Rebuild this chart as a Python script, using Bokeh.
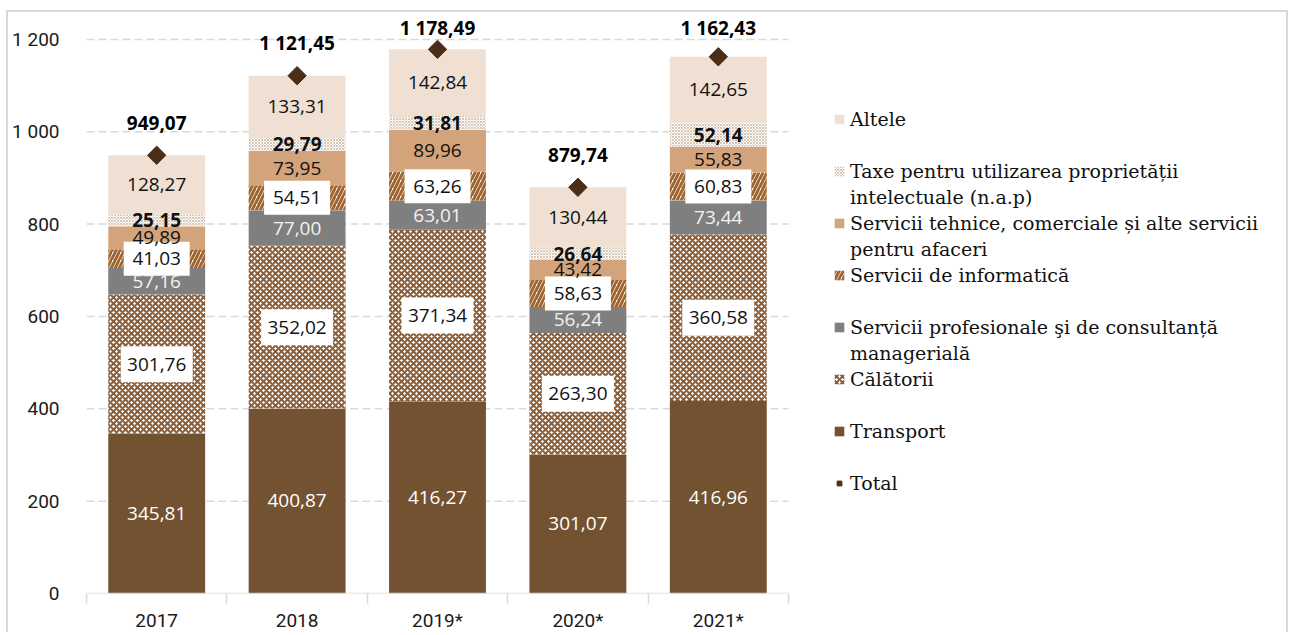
import numpy as np
from bokeh.plotting import figure
from bokeh.models import (ColumnDataSource, LabelSet, Legend, LegendItem, Range1d,
                          FixedTicker)
from bokeh.core.properties import value
from bokeh.embed import file_html
from bokeh.resources import INLINE

# ---------------- data ----------------
years = ["2017", "2018", "2019*", "2020*", "2021*"]
transport = [345.81, 400.87, 416.27, 301.07, 416.96]
calatorii = [301.76, 352.02, 371.34, 263.30, 360.58]
profesionale = [57.16, 77.00, 63.01, 56.24, 73.44]
informatica = [41.03, 54.51, 63.26, 58.63, 60.83]
tehnice = [49.89, 73.95, 89.96, 43.42, 55.83]
taxe = [25.15, 29.79, 31.81, 26.64, 52.14]
altele = [128.27, 133.31, 142.84, 130.44, 142.65]
total = [949.07, 1121.45, 1178.49, 879.74, 1162.43]

y_ticks = [0, 200, 400, 600, 800, 1000, 1200]
y_tick_labels = ["0", "200", "400", "600", "800", "1 000", "1 200"]

name_transport = "Transport"
name_calatorii = "Călătorii"
name_prof = ["Servicii profesionale şi de consultanță", "managerială"]
name_info = "Servicii de informatică"
name_teh = ["Servicii tehnice, comerciale și alte servicii", "pentru afaceri"]
name_taxe = ["Taxe pentru utilizarea proprietății", "intelectuale (n.a.p)"]
name_altele = "Altele"
name_total = "Total"


def fmt(v):
    s = f"{v:,.2f}"
    return s.replace(",", " ").replace(".", ",")


LABEL_FONT = "Open Sans"
AXIS_FONT = "Roboto"
LEGEND_FONT = "DejaVu Serif"

n_cat = len(years)
# the frame also hosts the legend: categories occupy the left 702 px of 1204 px
x_end = n_cat * 1204 / 702

p = figure(width=1282, height=622, output_backend="svg", toolbar_location=None,
           x_range=Range1d(0, x_end), y_range=Range1d(0, 1254),
           min_border_left=78, min_border_right=0, min_border_top=2,
           min_border_bottom=41, outline_line_color=None,
           margin=(10, 0, 0, 6),
           styles={"border-top": "2px solid #d9d9d9",
                   "border-left": "2px solid #d9d9d9",
                   "border-right": "2px solid #d9d9d9"})

xs = np.arange(n_cat) + 0.5
BAR_W = 0.69

# dashed gridlines limited to the category area, solid base line
grid_y = np.array(y_ticks[1:], dtype=float)
p.segment(x0=np.zeros(len(grid_y)), x1=np.full(len(grid_y), n_cat), y0=grid_y,
          y1=grid_y, line_color="#d9d9d9", line_width=1.5, line_dash="8 4")

layers = [
    ("transport", transport, dict(fill_color="#735232"),
     dict(color="#ffffff", bold=False, box=None)),
    ("calatorii", calatorii, dict(fill_color="#ffffff", hatch_pattern="diagonal_cross",
                                  hatch_color="#8C5E37", hatch_scale=6, hatch_weight=2),
     dict(color="#111111", bold=False, box=(72, 36))),
    ("prof", profesionale, dict(fill_color="#7F7F7F"),
     dict(color="#f2f2f2", bold=False, box=None)),
    ("info", informatica, dict(fill_color="#ffffff", hatch_pattern="right_diagonal_line",
                               hatch_color="#A0652F", hatch_scale=8, hatch_weight=3),
     dict(color="#111111", bold=False, box=(66, 34))),
    ("teh", tehnice, dict(fill_color="#D3A47B"),
     dict(color="#111111", bold=False, box=None)),
    ("taxe", taxe, dict(fill_color="#ffffff", hatch_pattern="diagonal_cross",
                        hatch_color="#D8C6B5", hatch_scale=3, hatch_weight=1),
     dict(color="#111111", bold=True, box=None)),
    ("altele", altele, dict(fill_color="#EFE0D3"),
     dict(color="#111111", bold=False, box=None)),
]

renderers = {}
bottom = np.zeros(n_cat)
label_specs = []
for key, vals, style, lab in layers:
    vals = np.array(vals)
    top = bottom + vals
    src = ColumnDataSource(dict(x=xs, bottom=bottom, top=top,
                                mid=(bottom + top) / 2,
                                text=[fmt(v) for v in vals]))
    r = p.vbar(x="x", bottom="bottom", top="top", width=BAR_W, source=src,
               line_color=None, **style)
    renderers[key] = r
    label_specs.append((src, lab))
    bottom = top

p.segment(x0=[0], x1=[n_cat], y0=[0], y1=[0], line_color="#d9d9d9", line_width=1.5)

# white boxes behind some labels
for src, lab in label_specs:
    if lab["box"] is not None:
        w, h = lab["box"]
        p.rect(x="x", y="mid", width=w, height=h, width_units="screen",
               height_units="screen", source=src, fill_color="#ffffff",
               line_color=None)

for src, lab in label_specs:
    ls = LabelSet(x="x", y="mid", text="text", source=src,
                  text_align="center", text_baseline="middle",
                  text_font=value(LABEL_FONT), text_font_size="19px",
                  text_color=lab["color"],
                  text_font_style="bold" if lab["bold"] else "normal")
    p.add_layout(ls)

# total markers and labels
total_arr = np.array(total)
tsrc = ColumnDataSource(dict(x=xs, y=total_arr,
                             ly=np.minimum(total_arr + 71, 1224),
                             text=[fmt(v) for v in total]))
r_total = p.scatter(x="x", y="y", source=tsrc, marker="square", angle=np.pi / 4,
                    size=13, fill_color="#4B2E17", line_color="#4B2E17")
p.add_layout(LabelSet(x="x", y="ly", text="text", source=tsrc,
                      text_align="center", text_baseline="middle",
                      text_font=value(LABEL_FONT), text_font_size="19px",
                      text_font_style="bold", text_color="#000000"))

# axes
p.xaxis.ticker = FixedTicker(ticks=list(xs), minor_ticks=list(range(0, n_cat + 1)))
p.xaxis.major_label_overrides = {float(x): y for x, y in zip(xs, years)}
p.xaxis.major_tick_line_color = None
p.xaxis.major_tick_out = 0
p.xaxis.minor_tick_in = 0
p.xaxis.minor_tick_out = 10
p.xaxis.minor_tick_line_color = "#d9d9d9"
p.xaxis.minor_tick_line_width = 1.5
p.xaxis.axis_line_color = None
p.xaxis.major_label_text_font = AXIS_FONT
p.xaxis.major_label_text_font_size = "19px"
p.xaxis.major_label_text_color = "#1a1a1a"
p.xaxis.major_label_standoff = 5

p.yaxis.ticker = FixedTicker(ticks=y_ticks)
p.yaxis.major_label_overrides = {t: l for t, l in zip(y_ticks, y_tick_labels)}
p.yaxis.axis_line_color = None
p.yaxis.major_tick_line_color = None
p.yaxis.minor_tick_line_color = None
p.yaxis.major_label_standoff = 21
p.yaxis.major_label_text_font = AXIS_FONT
p.yaxis.major_label_text_font_size = "19px"
p.yaxis.major_label_text_color = "#1a1a1a"

p.xgrid.visible = False
p.ygrid.visible = False

# legend (inside the frame, to the right of the bars)
blank = "\u00a0"
items = [
    LegendItem(label=name_altele, renderers=[renderers["altele"]]),
    LegendItem(label=blank, renderers=[]),
    LegendItem(label=name_taxe[0], renderers=[renderers["taxe"]]),
    LegendItem(label=name_taxe[1], renderers=[]),
    LegendItem(label=name_teh[0], renderers=[renderers["teh"]]),
    LegendItem(label=name_teh[1], renderers=[]),
    LegendItem(label=name_info, renderers=[renderers["info"]]),
    LegendItem(label=blank, renderers=[]),
    LegendItem(label=name_prof[0], renderers=[renderers["prof"]]),
    LegendItem(label=name_prof[1], renderers=[]),
    LegendItem(label=name_calatorii, renderers=[renderers["calatorii"]]),
    LegendItem(label=blank, renderers=[]),
    LegendItem(label=name_transport, renderers=[renderers["transport"]]),
    LegendItem(label=blank, renderers=[]),
    LegendItem(label=name_total, renderers=[r_total]),
]
legend = Legend(items=items, location=(747, 97), padding=0, margin=0,
                spacing=0, glyph_width=12, glyph_height=12, label_height=26,
                label_standoff=5, border_line_color=None,
                background_fill_alpha=0,
                label_text_font=LEGEND_FONT, label_text_font_size="19px",
                label_text_color="#111111")
p.add_layout(legend)

open("out.html", "w").write(file_html(p, INLINE))
